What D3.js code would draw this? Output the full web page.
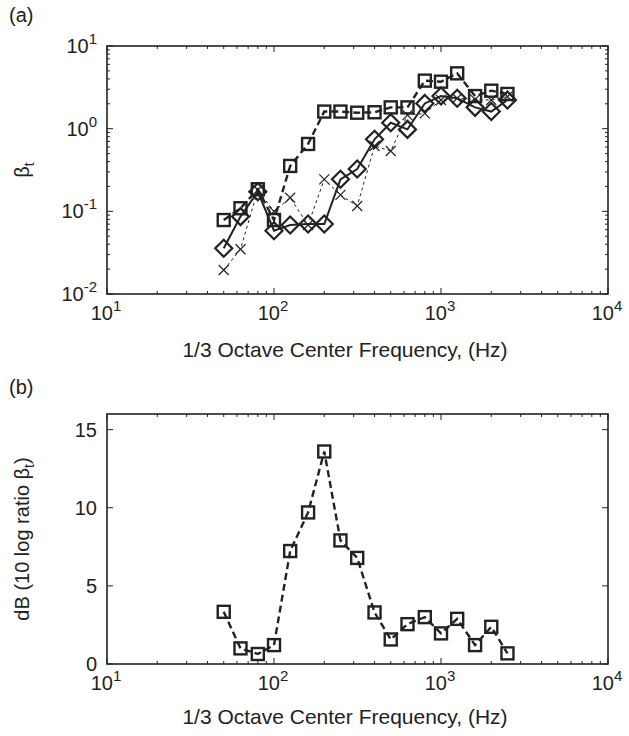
<!DOCTYPE html>
<html>
<head>
<meta charset="utf-8">
<script src="https://cdn.jsdelivr.net/npm/d3@7.9.0/dist/d3.min.js"></script>
<style>
  body { margin: 0; background: #fff; }
  svg text { font-family: "Liberation Sans", Arial, sans-serif; fill: #222; }
</style>
</head>
<body>
<svg id="chart" width="629" height="736"></svg>
<script>
// ---------- Data ----------
const freqs = [50, 63, 80, 100, 125, 160, 200, 250, 315, 400, 500, 630, 800, 1000, 1250, 1600, 2000, 2500];

// panel (a): beta_t
const betaSquare = [0.0785, 0.109, 0.185, 0.0785, 0.354, 0.653, 1.61, 1.61, 1.56, 1.58, 1.81, 1.81, 3.81, 3.70, 4.67, 2.48, 2.88, 2.63];
const betaDiamond = [0.0357, 0.0863, 0.173, 0.0583, 0.0684, 0.0703, 0.0703, 0.244, 0.325, 0.743, 1.18, 0.98, 2.02, 2.48, 2.33, 1.81, 1.61, 2.22];
const betaCross = [0.0195, 0.0348, 0.181, 0.100, 0.146, 0.0684, 0.244, 0.158, 0.116, 0.617, 0.537, 1.46, 1.53, 2.22, 2.33, 2.26, 2.22, 2.44];

// panel (b): dB ratio
const dbRatio = [3.34, 1.0, 0.64, 1.21, 7.23, 9.70, 13.6, 7.91, 6.79, 3.30, 1.57, 2.55, 3.0, 1.96, 2.89, 1.21, 2.38, 0.68];

const xTicks = [10, 100, 1000, 10000];
const yTicksA = [0.01, 0.1, 1, 10];
const yTicksB = [0, 5, 10, 15];

// ---------- Layout ----------
const svg = d3.select('#chart');
const ink = '#222';
const left = 107, right = 608;
const fs = 20;

const x = d3.scaleLog().domain([10, 10000]).range([left, right]);

function expLabel(sel, v) {
  const e = Math.round(Math.log10(v));
  sel.append('tspan').text('10');
  sel.append('tspan').attr('font-size', 15).attr('dy', -9).text(e);
}

function minorLog(lo, hi) {
  const out = [];
  for (let p = Math.log10(lo); p < Math.log10(hi); p++) {
    for (let k = 2; k <= 9; k++) out.push(k * Math.pow(10, p));
  }
  return out;
}

function frame(g, top, bottom, tickY, titleY) {
  g.append('rect')
    .attr('x', left).attr('y', top)
    .attr('width', right - left).attr('height', bottom - top)
    .attr('fill', 'none').attr('stroke', ink).attr('stroke-width', 1.6);

  // x ticks inside, top and bottom
  const major = xTicks, minor = minorLog(10, 10000);
  const tk = g.append('g').attr('stroke', ink).attr('stroke-width', 1);
  for (const [vals, len] of [[major, 6], [minor, 3]]) {
    for (const v of vals) {
      tk.append('line').attr('x1', x(v)).attr('x2', x(v)).attr('y1', bottom).attr('y2', bottom - len);
      tk.append('line').attr('x1', x(v)).attr('x2', x(v)).attr('y1', top).attr('y2', top + len);
    }
  }
  for (const v of xTicks) {
    const t = g.append('text')
      .attr('x', x(v) - 1).attr('y', tickY)
      .attr('text-anchor', 'middle').attr('font-size', fs);
    expLabel(t, v);
  }
  g.append('text')
    .attr('x', 345).attr('y', titleY)
    .attr('text-anchor', 'middle').attr('font-size', 21)
    .text('1/3 Octave Center Frequency, (Hz)');
}

function yTicksDraw(g, y, vals, len) {
  const tk = g.append('g').attr('stroke', ink).attr('stroke-width', 1);
  for (const v of vals) {
    tk.append('line').attr('x1', left).attr('x2', left + len).attr('y1', y(v)).attr('y2', y(v));
    tk.append('line').attr('x1', right).attr('x2', right - len).attr('y1', y(v)).attr('y2', y(v));
  }
}

function squares(g, data, y) {
  const s = 12;
  g.selectAll(null).data(data).join('rect')
    .attr('x', (d, i) => x(freqs[i]) - s / 2)
    .attr('y', d => y(d) - s / 2)
    .attr('width', s).attr('height', s)
    .attr('fill', 'none').attr('stroke', ink).attr('stroke-width', 2.4);
}

function diamonds(g, data, y) {
  const r = 8.5;
  g.selectAll(null).data(data).join('path')
    .attr('d', (d, i) => {
      const cx = x(freqs[i]), cy = y(d);
      return `M${cx},${cy - r}L${cx + r},${cy}L${cx},${cy + r}L${cx - r},${cy}Z`;
    })
    .attr('fill', 'none').attr('stroke', ink).attr('stroke-width', 2.2);
}

function crosses(g, data, y) {
  const r = 5;
  g.selectAll(null).data(data).join('path')
    .attr('d', (d, i) => {
      const cx = x(freqs[i]), cy = y(d);
      return `M${cx - r},${cy - r}L${cx + r},${cy + r}M${cx - r},${cy + r}L${cx + r},${cy - r}`;
    })
    .attr('fill', 'none').attr('stroke', ink).attr('stroke-width', 1.2);
}

function line(g, data, y, width, dash) {
  g.append('path')
    .datum(data)
    .attr('d', d3.line().x((d, i) => x(freqs[i])).y(d => y(d)))
    .attr('fill', 'none').attr('stroke', ink)
    .attr('stroke-width', width)
    .attr('stroke-dasharray', dash);
}

// ---------- Panel (a) ----------
{
  const top = 46, bottom = 294;
  const g = svg.append('g');
  const y = d3.scaleLog().domain([0.01, 10]).range([bottom, top]);

  g.append('text').attr('x', 9).attr('y', 22).attr('font-size', fs).text('(a)');

  yTicksDraw(g, y, yTicksA, 6);
  yTicksDraw(g, y, minorLog(0.01, 10), 3);
  for (const v of yTicksA) {
    const t = g.append('text')
      .attr('x', 97).attr('y', y(v) + 7)
      .attr('text-anchor', 'end').attr('font-size', fs);
    expLabel(t, v);
  }
  const yl = g.append('text')
    .attr('transform', `translate(29,${(top + bottom) / 2}) rotate(-90)`)
    .attr('text-anchor', 'middle').attr('font-size', fs);
  yl.append('tspan').text('β');
  yl.append('tspan').attr('font-size', 14).attr('dy', 5).text('t');

  line(g, betaCross, y, 1, '3,3');
  line(g, betaDiamond, y, 2, null);
  line(g, betaSquare, y, 2.4, '7,4');
  crosses(g, betaCross, y);
  diamonds(g, betaDiamond, y);
  squares(g, betaSquare, y);

  frame(g, top, bottom, 320, 357);
}

// ---------- Panel (b) ----------
{
  const top = 414, bottom = 664;
  const g = svg.append('g');
  const y = d3.scaleLinear().domain([0, 16]).range([bottom, top]);

  g.append('text').attr('x', 9).attr('y', 394).attr('font-size', fs).text('(b)');

  yTicksDraw(g, y, yTicksB, 6);
  for (const v of yTicksB) {
    g.append('text')
      .attr('x', 97).attr('y', y(v) + 7)
      .attr('text-anchor', 'end').attr('font-size', fs).text(v);
  }
  const yl = g.append('text')
    .attr('transform', `translate(29,${(top + bottom) / 2}) rotate(-90)`)
    .attr('text-anchor', 'middle').attr('font-size', fs);
  yl.append('tspan').text('dB (10 log ratio β');
  yl.append('tspan').attr('font-size', 14).attr('dy', 5).text('t');
  yl.append('tspan').attr('dy', -5).text(')');

  line(g, dbRatio, y, 2.4, '7,4');
  squares(g, dbRatio, y);

  frame(g, top, bottom, 690, 724);
}
</script>
</body>
</html>
